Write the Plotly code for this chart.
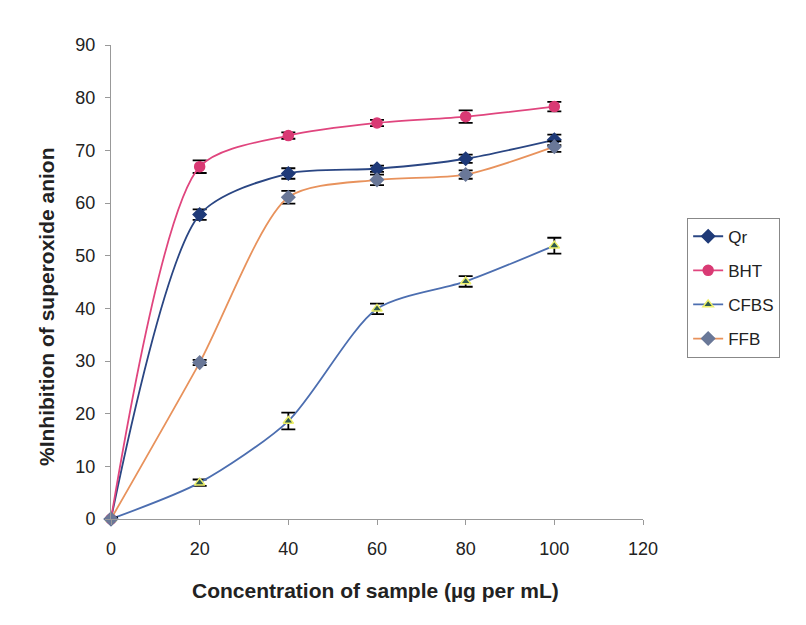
import plotly.graph_objects as go

conc = [0, 20, 40, 60, 80, 100]
qr = [0, 57.8, 65.6, 66.5, 68.4, 72.0]
bht = [0, 66.9, 72.8, 75.2, 76.4, 78.3]
cfbs = [0, 6.9, 18.6, 39.9, 45.1, 51.9]
ffb = [0, 29.7, 61.1, 64.4, 65.4, 70.7]
qr_err = [0.3, 1.0, 1.0, 0.6, 0.8, 1.0]
bht_err = [0.3, 1.2, 0.6, 0.6, 1.2, 0.9]
cfbs_err = [0.3, 0.6, 1.6, 1.0, 1.0, 1.5]
ffb_err = [0.3, 0.5, 1.2, 1.0, 0.8, 1.0]

series = [
    ("Qr", qr, qr_err, "#2A4683", "#1F3A78", "diamond", "#1F3A78", 10),
    ("BHT", bht, bht_err, "#E0457E", "#D93A74", "circle", "#D93A74", 10),
    ("CFBS", cfbs, cfbs_err, "#4C6EB0", "#2F5A4E", "triangle-up", "#EEF06A", 9),
    ("FFB", ffb, ffb_err, "#E8925C", "#6A7898", "diamond", "#6A7898", 10),
]

fig = go.Figure()
for name, y, err, lc, mc, sym, mlc, ms in series:
    fig.add_trace(go.Scatter(
        x=conc, y=y, name=name, legendgroup=name, mode="lines+markers",
        line=dict(color=lc, width=1.8, shape="spline", smoothing=0.75),
        marker=dict(symbol=sym, color=mc, size=ms, line=dict(color=mlc, width=1.5)),
        error_y=dict(type="data", array=err, color="black", thickness=1.8, width=7),
        cliponaxis=False,
    ))

font_family = "Liberation Sans, Arial"
tick_font = dict(family=font_family, size=18, color="#222222")
fig.update_layout(
    width=806, height=625,
    margin=dict(l=111, r=163, t=45, b=106),
    paper_bgcolor="white", plot_bgcolor="white",
    font=dict(family=font_family, color="black"),
    showlegend=True,
    legend=dict(x=1.083, y=0.488, xanchor="left", yanchor="middle",
                bordercolor="#888888", borderwidth=1,
                font=dict(family=font_family, size=17, color="#222222"),
                traceorder="grouped", tracegroupgap=9),
    xaxis=dict(range=[0, 120], tickvals=[0, 20, 40, 60, 80, 100, 120],
               showline=True, linecolor="#999999", linewidth=1,
               ticks="outside", ticklen=5, tickcolor="#999999",
               ticklabelstandoff=8,
               showgrid=False, zeroline=False, tickfont=tick_font),
    yaxis=dict(range=[0, 90], tickvals=list(range(0, 91, 10)),
               showline=True, linecolor="#999999", linewidth=1,
               ticks="outside", ticklen=5, tickcolor="#999999",
               ticklabelstandoff=6,
               showgrid=False, zeroline=False, tickfont=tick_font),
    annotations=[
        dict(text="<b>Concentration of sample (µg per mL)</b>",
             xref="paper", yref="paper", x=(375 - 111) / 532, y=-(590 - 519) / 474,
             xanchor="center", yanchor="middle", showarrow=False,
             font=dict(family=font_family, size=21, color="#222222")),
        dict(text="<b>%Inhibition of superoxide anion</b>",
             xref="paper", yref="paper", x=-(111 - 46) / 532, y=(519 - 307) / 474,
             xanchor="center", yanchor="middle", showarrow=False, textangle=-90,
             font=dict(family=font_family, size=21, color="#222222")),
    ],
)
fig.write_html("out.html")
